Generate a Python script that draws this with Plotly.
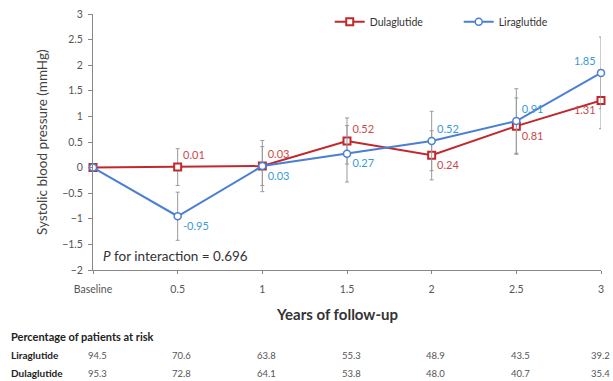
import plotly.graph_objects as go

# Follow-up time points (0 = baseline) and axis labels
years = [0, 0.5, 1, 1.5, 2, 2.5, 3]
tick_text = ["Baseline", "0.5", "1", "1.5", "2", "2.5", "3"]

# Change in systolic blood pressure (mmHg)
dula_sbp = [0, 0.01, 0.03, 0.52, 0.24, 0.81, 1.31]
lira_sbp = [0, -0.95, 0.03, 0.27, 0.52, 0.91, 1.85]

# Half-widths of the error bars
dula_err = [0, 0.36, 0.50, 0.45, 0.48, 0.55, 0.55]
lira_err = [0, 0.47, 0.38, 0.55, 0.58, 0.63, 0.70]

# Percentage of patients at risk
lira_risk = ["94.5", "70.6", "63.8", "55.3", "48.9", "43.5", "39.2"]
dula_risk = ["95.3", "72.8", "64.1", "53.8", "48.0", "40.7", "35.4"]

# Label placement for each point
dula_pos = ["top right", "top right", "top right", "top right", "bottom right", "bottom right", "bottom left"]
lira_pos = ["top right", "bottom right", "bottom right", "bottom right", "top right", "top right", "top left"]

RED = "#c0282e"
BLUE = "#4a7fd4"
RED_TXT = "#c84b4b"
BLUE_TXT = "#3a9ad6"
GREY = "#9a9a9a"
FONT = "Lato"


def labels(vals):
    return [""] + [f"{v:.2f}" for v in vals[1:]]


fig = go.Figure()

fig.add_trace(go.Scatter(
    x=years, y=dula_sbp, name="Dulaglutide", mode="lines+markers+text",
    line=dict(color=RED, width=2),
    marker=dict(symbol="square", size=7, color="white", line=dict(color=RED, width=2)),
    error_y=dict(type="data", array=dula_err, color=GREY, thickness=1, width=2),
    text=labels(dula_sbp), textposition=dula_pos,
    textfont=dict(family=FONT, size=11, color=RED_TXT),
))

fig.add_trace(go.Scatter(
    x=years, y=lira_sbp, name="Liraglutide", mode="lines+markers+text",
    line=dict(color=BLUE, width=2),
    marker=dict(symbol="circle", size=7, color="white", line=dict(color=BLUE, width=1.5)),
    error_y=dict(type="data", array=lira_err, color=GREY, thickness=1, width=2),
    text=labels(lira_sbp), textposition=lira_pos,
    textfont=dict(family=FONT, size=11, color=BLUE_TXT),
))

annotations = [
    # y-axis title
    dict(text="Systolic blood pressure (mmHg)", textangle=-90, xref="paper", yref="paper",
         x=0, y=0.5, xanchor="center", yanchor="middle", xshift=-51, showarrow=False,
         font=dict(family=FONT, size=13.5, color="#444")),
    # x-axis title
    dict(text="<b>Years of follow-up</b>", xref="paper", yref="paper", x=0.5, y=0,
         xanchor="center", yanchor="middle", xshift=-10, yshift=-44, showarrow=False,
         font=dict(family=FONT, size=15, color="#333")),
    # interaction p-value
    dict(text="<i>P</i> for interaction = 0.696", xref="paper", yref="paper", x=0, y=0,
         xanchor="left", yanchor="middle", xshift=8, yshift=14, showarrow=False,
         font=dict(family=FONT, size=13.5, color="#333")),
    # at-risk table header and row labels
    dict(text="<b>Percentage of patients at risk</b>", xref="paper", yref="paper", x=0, y=0,
         xanchor="left", yanchor="middle", xshift=-84, yshift=-66, showarrow=False,
         font=dict(family=FONT, size=11, color="#222")),
    dict(text="<b>Liraglutide</b>", xref="paper", yref="paper", x=0, y=0,
         xanchor="left", yanchor="middle", xshift=-84, yshift=-85, showarrow=False,
         font=dict(family=FONT, size=10, color="#222")),
    dict(text="<b>Dulaglutide</b>", xref="paper", yref="paper", x=0, y=0,
         xanchor="left", yanchor="middle", xshift=-84, yshift=-103, showarrow=False,
         font=dict(family=FONT, size=10, color="#222")),
]

# At-risk values sit under each tick; the last column is right-aligned so it stays on the page
for i, (xv, lr, dr) in enumerate(zip(years, lira_risk, dula_risk)):
    last = i == len(years) - 1
    anchor = "right" if last else "center"
    shift = 11 if last else 4
    for txt, ys in ((lr, -85), (dr, -103)):
        annotations.append(dict(text=txt, xref="x", yref="paper", x=xv, y=0, xanchor=anchor,
                                yanchor="middle", xshift=shift, yshift=ys, showarrow=False,
                                font=dict(family=FONT, size=9.5, color="#555")))

fig.update_layout(
    width=613, height=381,
    margin=dict(l=93, r=12, t=14, b=111, autoexpand=False),
    paper_bgcolor="white", plot_bgcolor="white",
    font=dict(family=FONT, size=10, color="#555"),
    showlegend=True,
    legend=dict(orientation="h", x=0.466, y=0.97, xanchor="left", yanchor="middle",
                font=dict(family=FONT, size=10.5, color="#333"), bgcolor="rgba(0,0,0,0)",
                itemwidth=30, entrywidth=84, entrywidthmode="pixels"),
    annotations=annotations,
    xaxis=dict(range=[0, 3], tickvals=years, ticktext=tick_text, showgrid=False,
               zeroline=False, showline=True, linecolor="#888", linewidth=1,
               ticks="outside", ticklen=3, tickcolor="#888", ticklabelstandoff=6,
               tickfont=dict(family=FONT, size=10.5, color="#555")),
    yaxis=dict(range=[-2, 3], dtick=0.5, showgrid=False, zeroline=False,
               showline=True, linecolor="#888", linewidth=1,
               ticks="outside", ticklen=4, tickcolor="#888", ticklabelstandoff=3,
               tickfont=dict(family=FONT, size=10.5, color="#555")),
)

fig.update_traces(cliponaxis=False)

fig.write_html("out.html")
